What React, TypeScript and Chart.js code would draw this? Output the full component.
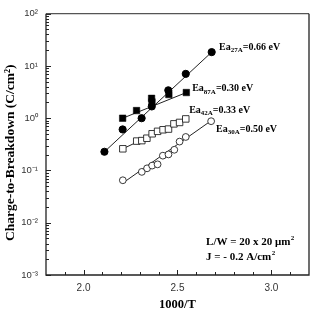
import React, { useEffect, useRef } from "react";
import { Chart, registerables } from "chart.js";

Chart.register(...registerables);

// ---- data ----
const ea27X = [2.111, 2.208, 2.309, 2.363, 2.451, 2.544, 2.682];
const ea27Y = [0.228, 0.61, 1.0, 1.68, 3.42, 7.06, 18.4];

const ea87X = [2.208, 2.282, 2.362, 2.364, 2.454, 2.547];
const ea87Y = [1.0, 1.4, 2.4, 2.05, 2.84, 3.1];

const ea42X = [2.209, 2.283, 2.31, 2.337, 2.365, 2.394, 2.423, 2.452, 2.481, 2.511, 2.544];
const ea42Y = [0.26, 0.365, 0.373, 0.414, 0.504, 0.561, 0.601, 0.62, 0.78, 0.83, 0.97];

const ea30X = [2.209, 2.31, 2.338, 2.365, 2.394, 2.422, 2.452, 2.483, 2.511, 2.544, 2.679];
const ea30Y = [0.065, 0.094, 0.11, 0.124, 0.131, 0.192, 0.203, 0.249, 0.357, 0.438, 0.877];

// fitted lines (end points)
const fit27X = [2.111, 2.682];
const fit27Y = [0.228, 18.4];
const fit87X = [2.208, 2.547];
const fit87Y = [1.0, 3.1];
const fit42X = [2.209, 2.544];
const fit42Y = [0.26, 0.97];
const fit30X = [2.209, 2.668];
const fit30Y = [0.0575, 0.84];

// series labels
const eaNames = ["27A", "87A", "42A", "30A"];
const eaValues = ["0.66", "0.30", "0.33", "0.50"];

// axis ticks
const xMajorTicks = [2.0, 2.5, 3.0];
const xMinorTicks = [1.9, 2.1, 2.2, 2.3, 2.4, 2.6, 2.7, 2.8, 2.9, 3.1];
const yTickValues = [1e-3, 1e-2, 1e-1, 1e0, 1e1, 1e2];
const yTickLabels = ["10⁻³", "10⁻²", "10⁻¹", "10⁰", "10¹", "10²"];
const yMinorMultipliers = [2, 3, 4, 5, 6, 7, 8, 9];

const xTitle = "1000/T";
const yTitle = "Charge-to-Breakdown (C/cm²)     ";
const noteLines = ["L/W = 20 x 20 μm", "J = - 0.2 A/cm"];

// ---- placement of text annotations (data units) ----
const eaLabelAnchorX = [2.721, 2.578, 2.562, 2.705];
const eaLabelAnchorY = [23.8, 3.85, 1.48, 0.647];
const noteAnchorX = 2.652;
const noteAnchorY = [0.00438, 0.00228];

const SERIF = "'Liberation Serif', 'Times New Roman', serif";
const SANS = "'Liberation Sans', Arial, sans-serif";

const pts = (xs: number[], ys: number[]) => xs.map((x, i) => ({ x, y: ys[i] }));

const decorPlugin = {
  id: "decor",
  afterDraw(chart: any) {
    const { ctx, chartArea: a, scales } = chart;
    const xs = scales.x;
    const ys = scales.y;
    ctx.save();
    // inward ticks
    ctx.strokeStyle = "#222";
    ctx.lineWidth = 1;
    ctx.beginPath();
    for (const v of yTickValues) {
      const py = Math.round(ys.getPixelForValue(v)) + 0.5;
      ctx.moveTo(a.left, py);
      ctx.lineTo(a.left + 5, py);
      if (v < 100) {
        for (const m of yMinorMultipliers) {
          const q = Math.round(ys.getPixelForValue(v * m)) + 0.5;
          ctx.moveTo(a.left, q);
          ctx.lineTo(a.left + 3, q);
        }
      }
    }
    for (const v of xMajorTicks) {
      const px = Math.round(xs.getPixelForValue(v)) + 0.5;
      ctx.moveTo(px, a.bottom);
      ctx.lineTo(px, a.bottom - 5);
    }
    for (const v of xMinorTicks) {
      const px = Math.round(xs.getPixelForValue(v)) + 0.5;
      ctx.moveTo(px, a.bottom);
      ctx.lineTo(px, a.bottom - 3);
    }
    ctx.stroke();
    // frame
    ctx.lineWidth = 1.3;
    ctx.strokeStyle = "#555";
    ctx.beginPath();
    ctx.moveTo(a.left, a.top);
    ctx.lineTo(a.right, a.top);
    ctx.stroke();
    ctx.strokeStyle = "#222";
    ctx.beginPath();
    ctx.moveTo(a.right, a.top);
    ctx.lineTo(a.right, a.bottom);
    ctx.lineTo(a.left, a.bottom);
    ctx.lineTo(a.left, a.top);
    ctx.stroke();

    // series labels
    ctx.fillStyle = "#000";
    ctx.textAlign = "left";
    ctx.textBaseline = "alphabetic";
    eaNames.forEach((name, i) => {
      const px = xs.getPixelForValue(eaLabelAnchorX[i]);
      const py = ys.getPixelForValue(eaLabelAnchorY[i]);
      ctx.font = `bold 10px ${SERIF}`;
      ctx.fillText("Ea", px, py + 3.5);
      let w = ctx.measureText("Ea").width;
      ctx.font = `bold 7px ${SERIF}`;
      ctx.fillText(name, px + w, py + 6);
      w += ctx.measureText(name).width;
      ctx.font = `bold 10px ${SERIF}`;
      ctx.fillText("=" + eaValues[i] + " eV", px + w, py + 3.5);
    });

    // note
    noteLines.forEach((line, i) => {
      const px = xs.getPixelForValue(noteAnchorX);
      const py = ys.getPixelForValue(noteAnchorY[i]);
      ctx.font = `bold 11px ${SERIF}`;
      ctx.fillText(line, px, py + 4);
      const w = ctx.measureText(line).width;
      ctx.font = `bold 7px ${SERIF}`;
      ctx.fillText("2", px + w + 0.5, py - 1);
    });
    ctx.restore();
  },
};

export default function App() {
  const ref = useRef<HTMLCanvasElement>(null);
  useEffect(() => {
    document.body.style.margin = "0";
    const lineDs = (xs: number[], ys: number[]) => ({
      type: "line" as const,
      data: pts(xs, ys),
      borderColor: "#222",
      borderWidth: 1,
      pointRadius: 0,
      showLine: true,
      fill: false,
      order: 2,
    });
    const chart = new Chart(ref.current!, {
      type: "scatter",
      data: {
        datasets: [
          {
            data: pts(ea27X, ea27Y),
            pointStyle: "circle",
            pointRadius: 3.6,
            pointBackgroundColor: "#000",
            pointBorderColor: "#000",
            pointBorderWidth: 1,
            order: 0,
          },
          {
            data: pts(ea87X, ea87Y),
            pointStyle: "rect",
            pointRadius: 4.6,
            pointBackgroundColor: "#000",
            pointBorderColor: "#000",
            pointBorderWidth: 0.5,
            order: 1,
          },
          {
            data: pts(ea42X, ea42Y),
            pointStyle: "rect",
            pointRadius: 4.6,
            pointBackgroundColor: "#fff",
            pointBorderColor: "#222",
            pointBorderWidth: 0.9,
            order: 0,
          },
          {
            data: pts(ea30X, ea30Y),
            pointStyle: "circle",
            pointRadius: 3.4,
            pointBackgroundColor: "#fff",
            pointBorderColor: "#222",
            pointBorderWidth: 0.9,
            order: 0,
          },
          lineDs(fit27X, fit27Y) as any,
          lineDs(fit87X, fit87Y) as any,
          lineDs(fit42X, fit42Y) as any,
          lineDs(fit30X, fit30Y) as any,
        ],
      },
      options: {
        animation: false,
        responsive: false,
        layout: { padding: { top: 10, right: 6, left: 0, bottom: 0 } },
        plugins: { legend: { display: false }, tooltip: { enabled: false } },
        scales: {
          x: {
            type: "linear",
            min: 1.8,
            max: 3.2,
            grid: { display: false, drawTicks: false },
            border: { display: false },
            afterBuildTicks: (s: any) => {
              s.ticks = xMajorTicks.map((v) => ({ value: v }));
            },
            ticks: {
              callback: (v: any) => Number(v).toFixed(1),
              padding: 7,
              color: "#333",
              font: { family: SANS, size: 10 },
              maxRotation: 0,
              autoSkip: false,
            },
            title: {
              display: true,
              text: xTitle,
              color: "#000",
              font: { family: SERIF, size: 12.5, weight: "bold" },
              padding: { top: 0, bottom: 0 },
            },
            afterFit: (s: any) => {
              s.height = 37;
            },
          },
          y: {
            type: "logarithmic",
            min: 1e-3,
            max: 1e2,
            grid: { display: false, drawTicks: false },
            border: { display: false },
            afterBuildTicks: (s: any) => {
              s.ticks = yTickValues.map((v) => ({ value: v }));
            },
            ticks: {
              callback: (_v: any, i: number) => yTickLabels[i],
              padding: 8,
              color: "#333",
              font: { family: SANS, size: 9.5 },
              autoSkip: false,
            },
            title: {
              display: true,
              text: yTitle,
              color: "#000",
              font: { family: SERIF, size: 13.5, weight: "bold" },
              padding: { top: 2, bottom: 0 },
            },
            afterFit: (s: any) => {
              s.width = 46;
            },
          },
        },
      },
      plugins: [decorPlugin],
    } as any);
    return () => chart.destroy();
  }, []);
  return (
    <div style={{ width: 315, height: 312 }}>
      <canvas ref={ref} width={315} height={312} style={{ display: "block" }} />
    </div>
  );
}
